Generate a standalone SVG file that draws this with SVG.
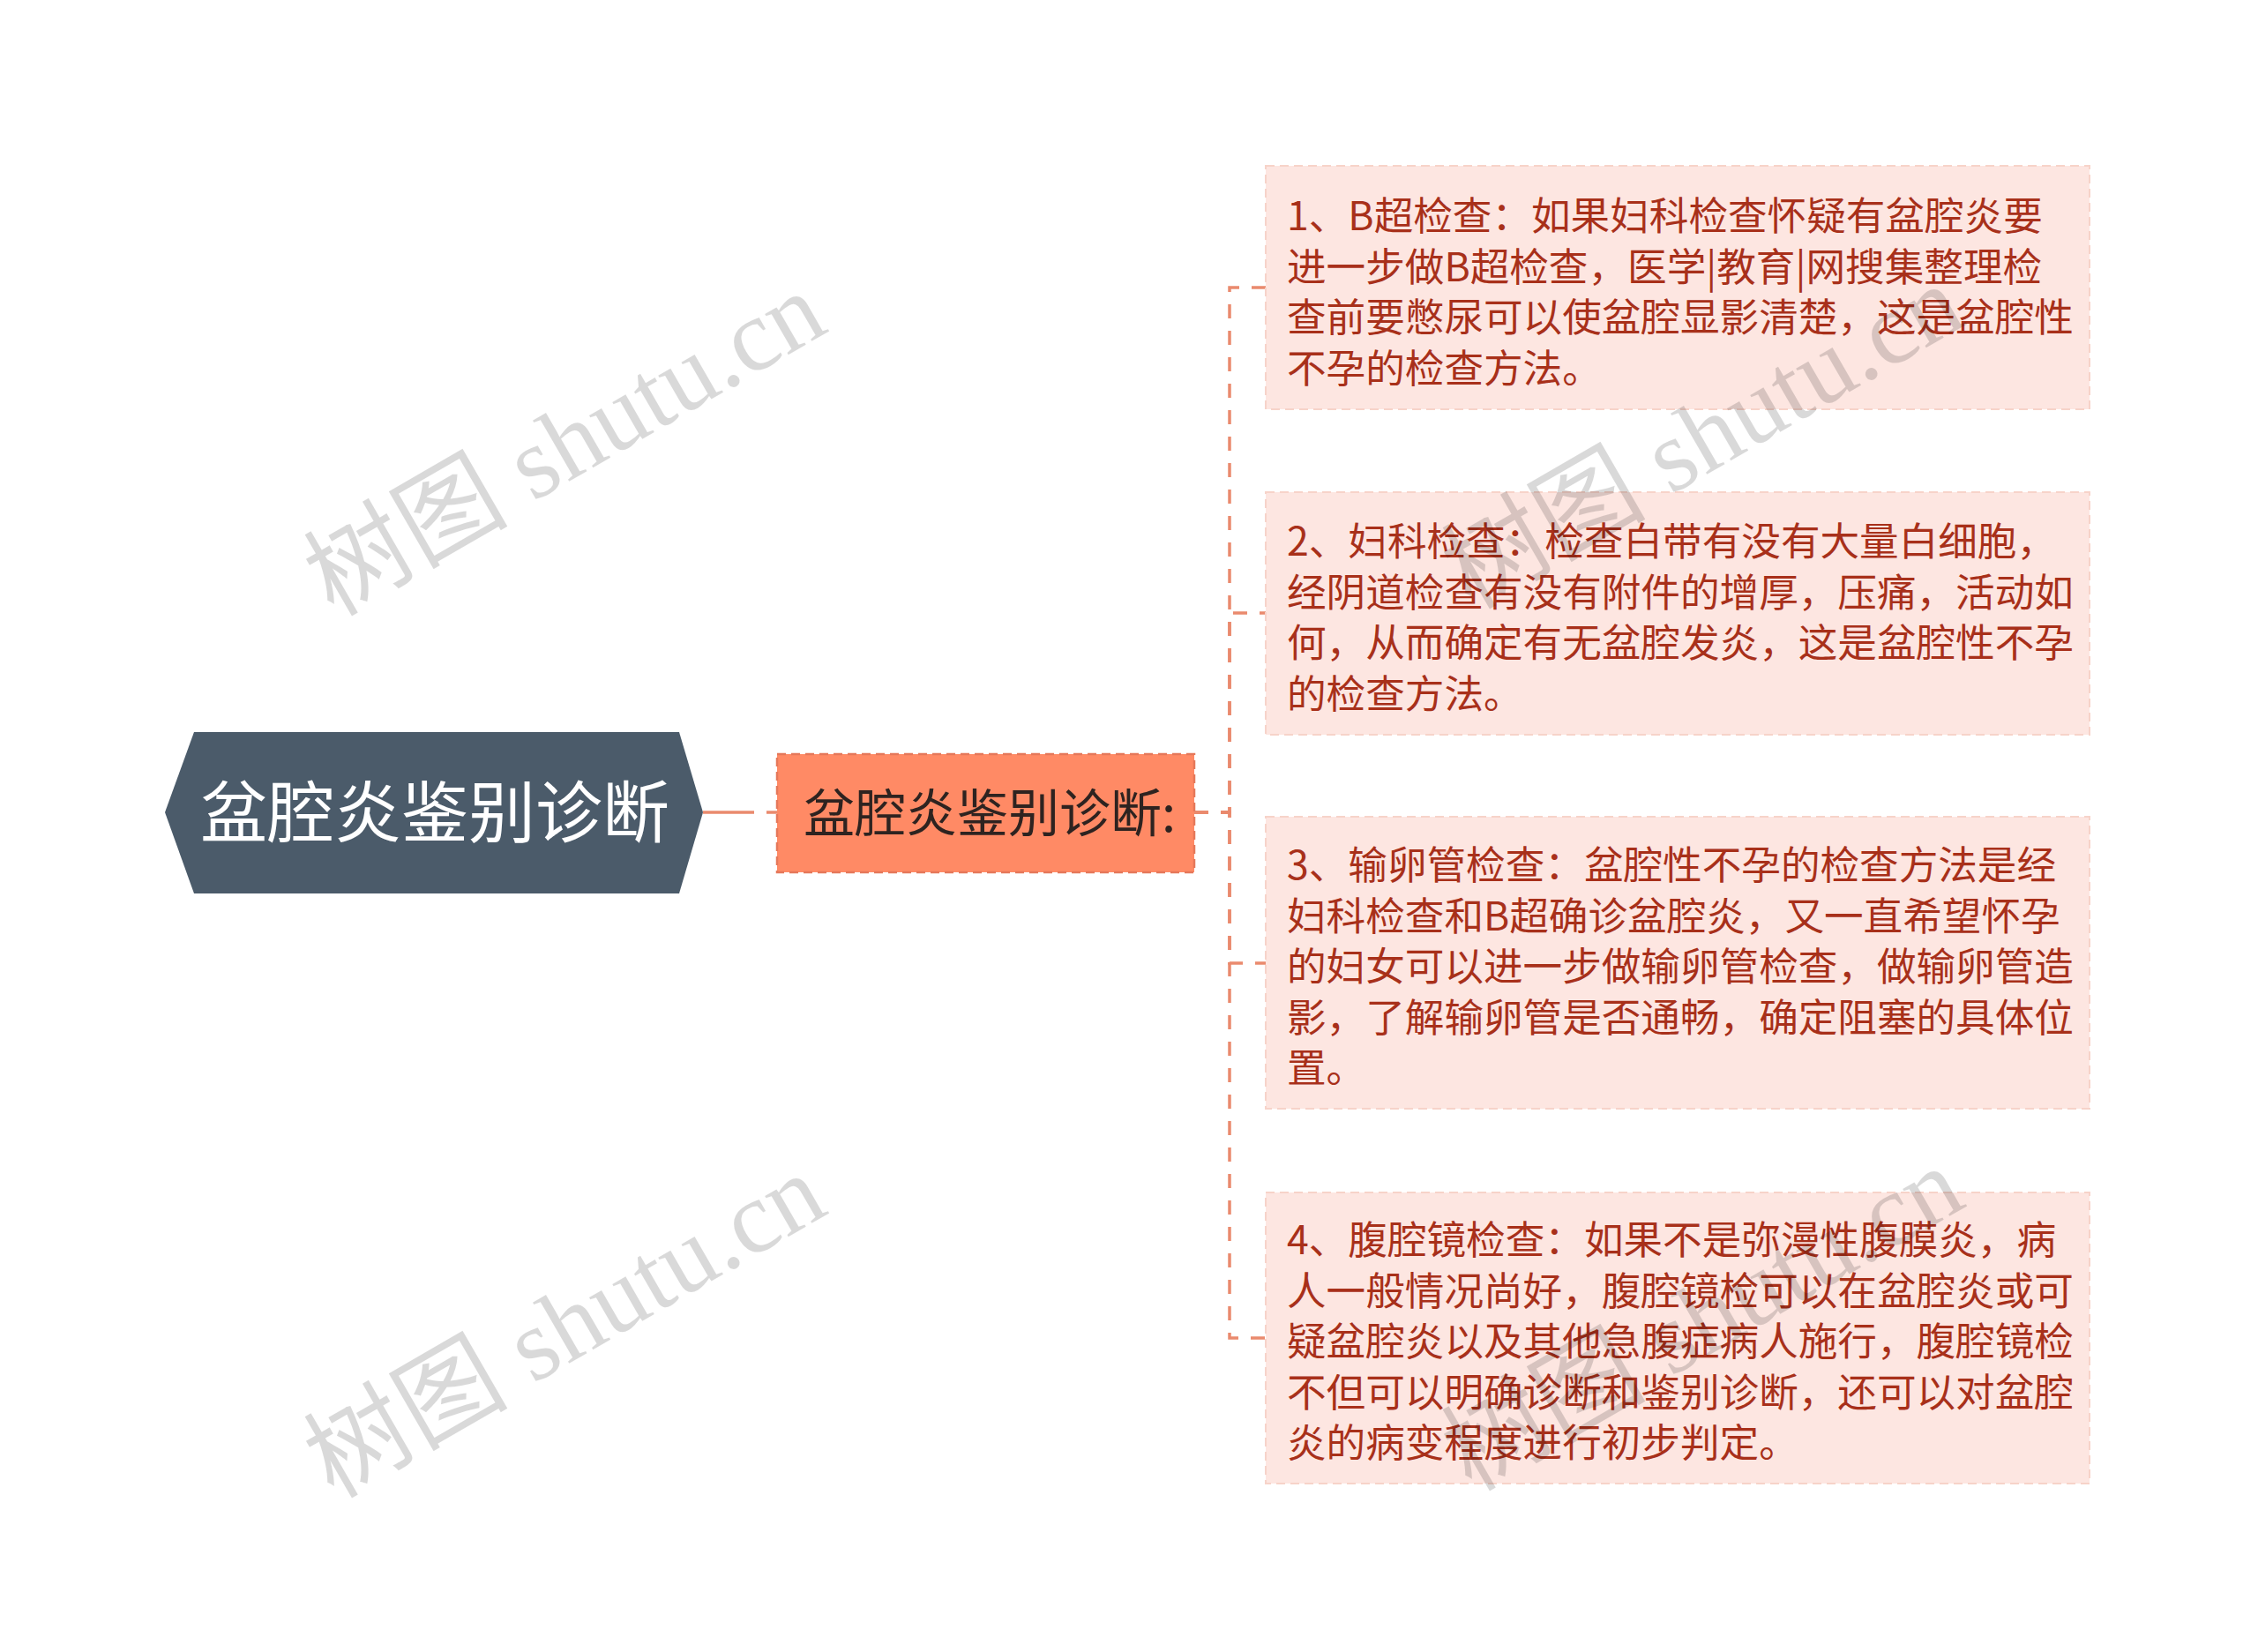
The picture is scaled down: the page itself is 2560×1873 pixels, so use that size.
<svg xmlns="http://www.w3.org/2000/svg" width="2560" height="1873" viewBox="0 0 2560 1873">
<defs>
<style>
.conn{fill:none;stroke:#EA8A6E;stroke-width:3.5;stroke-dasharray:16 14}
.leaf rect{fill:#FDE6E1;stroke:#F7D3C9;stroke-width:2;stroke-dasharray:10 6}
.leaf text{font-family:"Microsoft YaHei","Noto Sans CJK SC","Noto Sans",sans-serif;font-size:44.6px;fill:#A8301A}
.wm{font-family:"Liberation Serif","Noto Sans CJK SC",serif;font-size:116px;fill:#000;fill-opacity:0.15}
</style>
</defs>
<rect width="2560" height="1873" fill="#FFFFFF"/>
<g id="connectors">
<path class="conn" d="M797,921 H881" style="stroke-dasharray:58 14"/>
<path class="conn" d="M1354,921 H1394 V326 H1435"/>
<path class="conn" d="M1354,921 H1394 V695 H1435"/>
<path class="conn" d="M1354,921 H1394 V1092 H1435"/>
<path class="conn" d="M1354,921 H1394 V1517 H1435"/>
</g>
<g id="root">
<polygon points="187,921 220,830 770,830 797,921 770,1013 220,1013" fill="#4B5B6A"/>
<text x="493" y="949" text-anchor="middle" font-family="Microsoft YaHei, Noto Sans CJK SC, sans-serif" font-size="76" fill="#FFFFFF">盆腔炎鉴别诊断</text>
</g>
<g id="mid">
<rect x="881" y="855" width="473" height="134" fill="#FF8A65" stroke="#E5785A" stroke-width="2.5" stroke-dasharray="10 6"/>
<text x="911" y="943" font-family="Microsoft YaHei, Noto Sans CJK SC, sans-serif" font-size="58" fill="#2E2320">盆腔炎鉴别诊断:</text>
</g>
<g id="leaf1" class="leaf">
<rect x="1435" y="188" width="934" height="276"/>
<text x="1459" y="261">1、B超检查：如果妇科检查怀疑有盆腔炎要</text>
<text x="1459" y="318.5">进一步做B超检查，医学|教育|网搜集整理检</text>
<text x="1459" y="376">查前要憋尿可以使盆腔显影清楚，这是盆腔性</text>
<text x="1459" y="433.5">不孕的检查方法。</text>
</g>
<g id="leaf2" class="leaf">
<rect x="1435" y="558" width="934" height="275"/>
<text x="1459" y="630">2、妇科检查：检查白带有没有大量白细胞，</text>
<text x="1459" y="687.5">经阴道检查有没有附件的增厚，压痛，活动如</text>
<text x="1459" y="745">何，从而确定有无盆腔发炎，这是盆腔性不孕</text>
<text x="1459" y="802.5">的检查方法。</text>
</g>
<g id="leaf3" class="leaf">
<rect x="1435" y="926" width="934" height="331"/>
<text x="1459" y="997">3、输卵管检查：盆腔性不孕的检查方法是经</text>
<text x="1459" y="1054.5">妇科检查和B超确诊盆腔炎，又一直希望怀孕</text>
<text x="1459" y="1112">的妇女可以进一步做输卵管检查，做输卵管造</text>
<text x="1459" y="1169.5">影，了解输卵管是否通畅，确定阻塞的具体位</text>
<text x="1459" y="1227">置。</text>
</g>
<g id="leaf4" class="leaf">
<rect x="1435" y="1352" width="934" height="330"/>
<text x="1459" y="1422">4、腹腔镜检查：如果不是弥漫性腹膜炎，病</text>
<text x="1459" y="1479.5">人一般情况尚好，腹腔镜检可以在盆腔炎或可</text>
<text x="1459" y="1537">疑盆腔炎以及其他急腹症病人施行，腹腔镜检</text>
<text x="1459" y="1594.5">不但可以明确诊断和鉴别诊断，还可以对盆腔</text>
<text x="1459" y="1652">炎的病变程度进行初步判定。</text>
</g>
<g id="watermarks">
<text class="wm" transform="translate(378,700) rotate(-30)">树图 shutu.cn</text>
<text class="wm" transform="translate(1668,692) rotate(-30)">树图 shutu.cn</text>
<text class="wm" transform="translate(378,1700) rotate(-30)">树图 shutu.cn</text>
<text class="wm" transform="translate(1668,1692) rotate(-30)">树图 shutu.cn</text>
</g>
</svg>
